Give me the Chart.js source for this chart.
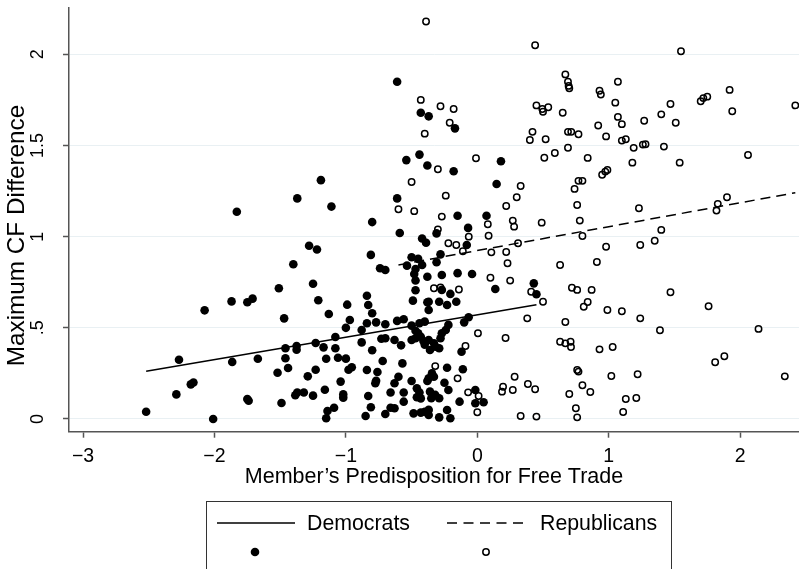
<!DOCTYPE html>
<html>
<head>
<meta charset="utf-8">
<script src="https://cdn.jsdelivr.net/npm/chart.js@4"></script>
<style>
  html, body { margin: 0; padding: 0; background: #fff; }
  canvas { display: block; }
</style>
</head>
<body>
<canvas id="chart" width="799" height="569"></canvas>
<script>
// [predisposition, max CF difference]
const democrats = [
  [-2.52,0.04],[-2.29,0.135],[-2.27,0.325],[-2.18,0.19],[-2.16,0.2],[-2.075,0.596],[-2.01,0.0],
  [-1.87,0.645],[-1.865,0.313],[-1.75,0.64],[-1.71,0.66],[-1.75,0.11],[-1.74,0.1],[-1.67,0.33],
  [-1.51,0.717],[-1.52,0.254],[-1.49,0.088],[-1.47,0.552],[-1.46,0.388],[-1.46,0.333],[-1.44,0.28],
  [-1.4,0.849],[-1.375,0.4],[-1.375,0.38],[-1.385,0.13],[-1.37,0.145],[-1.32,0.145],[-1.29,0.234],
  [-1.28,0.95],[-1.22,0.93],[-1.25,0.742],[-1.25,0.128],[-1.23,0.417],[-1.23,0.27],[-1.21,0.651],
  [-1.17,0.393],[-1.15,0.33],[-1.16,0.16],[-1.14,0.044],[-1.15,0.004],[-1.09,0.062],[-1.13,0.576],
  [-1.08,0.45],[-1.08,0.388],[-1.06,0.336],[-1.0,0.331],[-1.04,0.205],[-1.02,0.135],[-1.02,0.117],
  [-0.99,0.627],[-0.97,0.543],[-1.0,0.5],[-0.98,0.27],[-0.955,0.284],[-0.88,0.488],[-0.88,0.42],
  [-0.85,0.016],[-0.84,0.676],[-0.83,0.625],[-0.8,0.58],[-0.84,0.525],[-0.77,0.53],[-0.7,0.52],
  [-0.81,0.9],[-0.8,0.377],[-0.84,0.269],[-0.83,0.126],[-0.81,0.064],[-0.76,0.258],[-0.776,0.196],
  [-0.74,0.827],[-0.7,0.817],[-0.73,0.44],[-0.7,0.443],[-0.72,0.318],[-0.66,0.145],[-0.7,0.027],
  [-0.66,0.062],[-0.63,0.059],[-0.63,0.433],[-0.61,0.538],[-0.56,0.547],[-0.58,0.404],[-0.57,0.305],
  [-0.63,0.196],[-0.6,0.232],[-0.56,0.145],[-0.56,0.095],[-0.59,1.02],[-1.19,1.31],[-1.37,1.21],
  [-1.11,1.165],[-1.83,1.137],[-0.8,1.08],[-0.61,1.21],[-0.54,1.42],[-0.44,1.45],[-0.38,1.39],
  [-0.43,1.68],[-0.37,1.66],[-0.42,0.99],[-0.61,1.85],[-0.39,0.967],[-0.5,0.887],[-0.45,0.878],
  [-0.42,0.845],[-0.535,0.841],[-0.47,0.823],[-0.48,0.795],[-0.47,0.76],[-0.38,0.78],[-0.47,0.706],
  [-0.49,0.649],[-0.38,0.64],[-0.37,0.598],[-0.5,0.512],[-0.44,0.525],[-0.4,0.534],[-0.47,0.484],
  [-0.45,0.47],[-0.5,0.433],[-0.47,0.443],[-0.43,0.451],[-0.41,0.428],[-0.4,0.408],[-0.77,0.21],
  [-0.5,0.208],[-0.46,0.168],[-0.44,0.145],[-0.46,0.119],[-0.43,0.113],[-0.38,0.208],[-0.485,0.031],
  [-0.43,0.035],[-0.4,0.04],[-0.37,0.05],[-0.15,1.115],[0.07,1.115],[-0.07,1.048],[-0.31,1.018],
  [-0.08,0.954],[-0.28,0.903],[-0.31,0.86],[-0.27,0.79],[-0.15,0.8],[-0.04,0.795],[-0.27,0.708],
  [-0.205,0.686],[0.137,0.713],[0.43,0.744],[0.45,0.684],[-0.37,0.643],[-0.29,0.643],[-0.23,0.625],
  [-0.16,0.643],[-0.066,0.558],[-0.1,0.53],[-0.22,0.516],[-0.24,0.488],[-0.27,0.47],[-0.28,0.443],
  [-0.33,0.415],[-0.37,0.433],[-0.32,0.397],[-0.36,0.378],[-0.29,0.388],[-0.12,0.369],[-0.23,0.281],
  [-0.11,0.273],[-0.345,0.25],[-0.37,0.223],[-0.33,0.232],[-0.25,0.199],[-0.22,0.159],[-0.36,0.15],
  [-0.32,0.132],[-0.29,0.114],[-0.35,0.114],[-0.135,0.095],[-0.015,0.159],[-0.015,0.086],[0.048,0.092],
  [-0.37,0.022],[-0.29,0.009],[-0.23,0.049],[-0.205,0.004],[-0.17,1.594],[-0.18,1.359],[0.18,1.414],
  [0.147,1.289]
];

const republicans = [
  [-0.39,2.18],[-0.43,1.75],[-0.4,1.565],[-0.5,1.3],[-0.6,1.15],[-0.48,1.14],[0.44,2.05],[1.55,2.017],
  [0.67,1.89],[0.69,1.85],[0.695,1.827],[0.7,1.814],[1.07,1.85],[0.93,1.8],[0.94,1.78],[1.05,1.735],
  [1.92,1.805],[1.7,1.743],[1.72,1.76],[1.75,1.768],[1.47,1.728],[2.42,1.72],[1.94,1.688],[0.45,1.72],
  [0.495,1.7],[0.5,1.685],[0.54,1.71],[0.65,1.68],[1.07,1.657],[1.1,1.617],[1.27,1.636],[1.4,1.671],
  [1.51,1.625],[0.92,1.61],[0.98,1.55],[0.42,1.575],[0.4,1.53],[0.52,1.534],[0.69,1.575],[0.715,1.575],
  [0.77,1.562],[1.1,1.527],[1.13,1.534],[1.19,1.487],[1.26,1.505],[1.28,1.507],[1.42,1.494],[0.69,1.488],
  [0.59,1.459],[0.51,1.433],[2.06,1.448],[0.84,1.432],[1.18,1.406],[1.54,1.406],[0.95,1.34],[0.974,1.357],
  [0.99,1.366],[0.77,1.306],[0.8,1.306],[0.74,1.262],[0.33,1.278],[0.3,1.216],[0.22,1.168],[0.76,1.174],
  [0.78,1.088],[1.23,1.156],[1.83,1.18],[1.9,1.216],[1.82,1.143],[-0.01,1.43],[-0.24,1.225],[-0.28,1.715],
  [-0.18,1.7],[-0.21,1.625],[-0.3,1.37],[-0.3,1.04],[-0.065,1.0],[-0.33,0.717],[-0.28,0.722],[-0.14,0.71],
  [0.1,0.775],[0.25,0.759],[0.41,0.698],[0.5,0.643],[-0.27,1.11],[0.08,1.068],[0.086,1.005],[0.27,1.088],
  [0.28,1.055],[0.49,1.077],[-0.22,0.964],[-0.16,0.954],[-0.11,0.92],[0.107,0.914],[0.22,0.916],[0.23,0.854],
  [0.31,0.964],[0.38,0.552],[0.005,0.47],[0.215,0.444],[-0.09,0.4],[-0.32,0.29],[-0.15,0.223],[-0.07,0.146],
  [0.01,0.126],[0.0,0.037],[0.284,0.232],[0.196,0.177],[0.188,0.15],[0.27,0.159],[0.385,0.192],[0.44,0.163],
  [0.33,0.016],[0.45,0.013],[0.8,1.004],[0.98,0.945],[1.24,0.954],[1.35,0.978],[1.4,1.037],[0.63,0.845],
  [0.91,0.861],[0.72,0.72],[0.76,0.708],[0.87,0.708],[0.84,0.642],[0.81,0.616],[1.47,0.695],[1.76,0.618],
  [0.99,0.598],[1.1,0.591],[1.24,0.552],[1.39,0.487],[2.14,0.494],[0.67,0.532],[0.63,0.424],[0.67,0.415],
  [0.71,0.424],[0.713,0.395],[0.93,0.382],[1.03,0.395],[1.81,0.311],[1.88,0.344],[2.34,0.234],[0.76,0.269],
  [0.77,0.26],[1.02,0.236],[1.22,0.245],[0.8,0.185],[0.86,0.148],[0.7,0.137],[1.13,0.11],[1.21,0.115],
  [0.75,0.059],[0.76,0.009],[1.11,0.038]
];

// fitted lines, endpoints
const demFit = [[-2.52, 0.262], [0.45, 0.627]];
const repFit = [[-0.60, 0.845], [2.42, 1.241]];

const xTicks = [-3, -2, -1, 0, 1, 2];
const yTicks = [0, 0.5, 1, 1.5, 2];
const yTickLabels = ["0", ".5", "1", "1.5", "2"];

const FONT = "'Liberation Sans', Arial, Helvetica, sans-serif";
const toPts = arr => arr.map(([x, y]) => ({ x, y }));

// y title sits a bit below the plot centre in the original, and the
// legend is two rows (lines, then markers) so both are drawn by hand
const extras = {
  id: "extras",
  afterDraw(chart) {
    const ctx = chart.ctx;
    ctx.save();

    ctx.fillStyle = "#000";
    ctx.font = "24.3px " + FONT;
    ctx.textAlign = "center";
    ctx.textBaseline = "middle";
    ctx.translate(17, 235.5);
    ctx.rotate(-Math.PI / 2);
    ctx.fillText("Maximum CF Difference", 0, 0);
    ctx.setTransform(1, 0, 0, 1, 0, 0);

    ctx.strokeStyle = "#333";
    ctx.lineWidth = 1;
    ctx.strokeRect(206.5, 501.5, 465, 90);

    ctx.strokeStyle = "#000";
    ctx.lineWidth = 1.5;
    ctx.beginPath(); ctx.moveTo(217, 523); ctx.lineTo(295, 523); ctx.stroke();
    ctx.setLineDash([10, 6.5]);
    ctx.beginPath(); ctx.moveTo(447, 523); ctx.lineTo(526, 523); ctx.stroke();
    ctx.setLineDash([]);

    ctx.font = "21.3px " + FONT;
    ctx.textAlign = "left";
    ctx.fillText("Democrats", 307, 524);
    ctx.fillText("Republicans", 540, 524);

    ctx.beginPath(); ctx.arc(255, 552, 4.3, 0, Math.PI * 2); ctx.fill();
    ctx.beginPath(); ctx.arc(486, 552, 3.2, 0, Math.PI * 2); ctx.stroke();
    ctx.restore();
  }
};

new Chart(document.getElementById("chart"), {
  type: "scatter",
  data: {
    datasets: [
      {
        label: "Democrats",
        data: toPts(democrats),
        pointRadius: 4.3,
        pointBackgroundColor: "#000",
        pointBorderWidth: 0,
        order: 2
      },
      {
        label: "Republicans",
        data: toPts(republicans),
        pointRadius: 3.2,
        pointBackgroundColor: "rgba(0,0,0,0)",
        pointBorderColor: "#000",
        pointBorderWidth: 1.5,
        order: 2
      },
      {
        label: "Democrats fit",
        type: "line",
        data: toPts(demFit),
        borderColor: "#000",
        borderWidth: 1.5,
        pointRadius: 0,
        order: 1
      },
      {
        label: "Republicans fit",
        type: "line",
        data: toPts(repFit),
        borderColor: "#000",
        borderWidth: 1.5,
        borderDash: [10, 6],
        pointRadius: 0,
        order: 1
      }
    ]
  },
  options: {
    responsive: false,
    animation: false,
    devicePixelRatio: 1,
    layout: { autoPadding: false, padding: { top: 7.3, right: 0, left: 0, bottom: 0 } },
    plugins: { legend: { display: false }, tooltip: { enabled: false } },
    scales: {
      x: {
        type: "linear",
        min: -3.107,
        max: 2.448,
        afterBuildTicks: s => { s.ticks = xTicks.map(v => ({ value: v })); },
        afterFit: s => { s.height = 137.3; s.paddingLeft = 0; s.paddingRight = 0; },
        ticks: {
          callback: v => String(v).replace("-", "\u2212"),
          font: { family: FONT, size: 19.5 },
          color: "#000",
          padding: 7,
          maxRotation: 0,
          autoSkip: false
        },
        grid: { drawOnChartArea: false, tickLength: 6, tickColor: "#555", tickWidth: 1.5 },
        border: { color: "#555", width: 1.5 },
        title: {
          display: true,
          text: "Member\u2019s Predisposition for Free Trade",
          font: { family: FONT, size: 21.5 },
          color: "#000",
          padding: { top: 0, bottom: 79 }
        }
      },
      y: {
        type: "linear",
        min: -0.0697,
        max: 2.258,
        afterBuildTicks: s => { s.ticks = yTicks.map(v => ({ value: v })); },
        afterFit: s => { s.width = 69; s.paddingTop = 0; s.paddingBottom = 0; },
        ticks: {
          callback: v => yTickLabels[yTicks.indexOf(v)],
          font: { family: FONT, size: 18 },
          color: "#000",
          minRotation: 90,
          maxRotation: 90,
          crossAlign: "center",
          padding: 12,
          autoSkip: false
        },
        grid: { color: "#e9f0f3", lineWidth: 1, tickLength: 6, tickColor: "#555", tickWidth: 1.5 },
        border: { color: "#555", width: 1.5 },
        title: { display: false }
      }
    }
  },
  plugins: [extras]
});
</script>
</body>
</html>
